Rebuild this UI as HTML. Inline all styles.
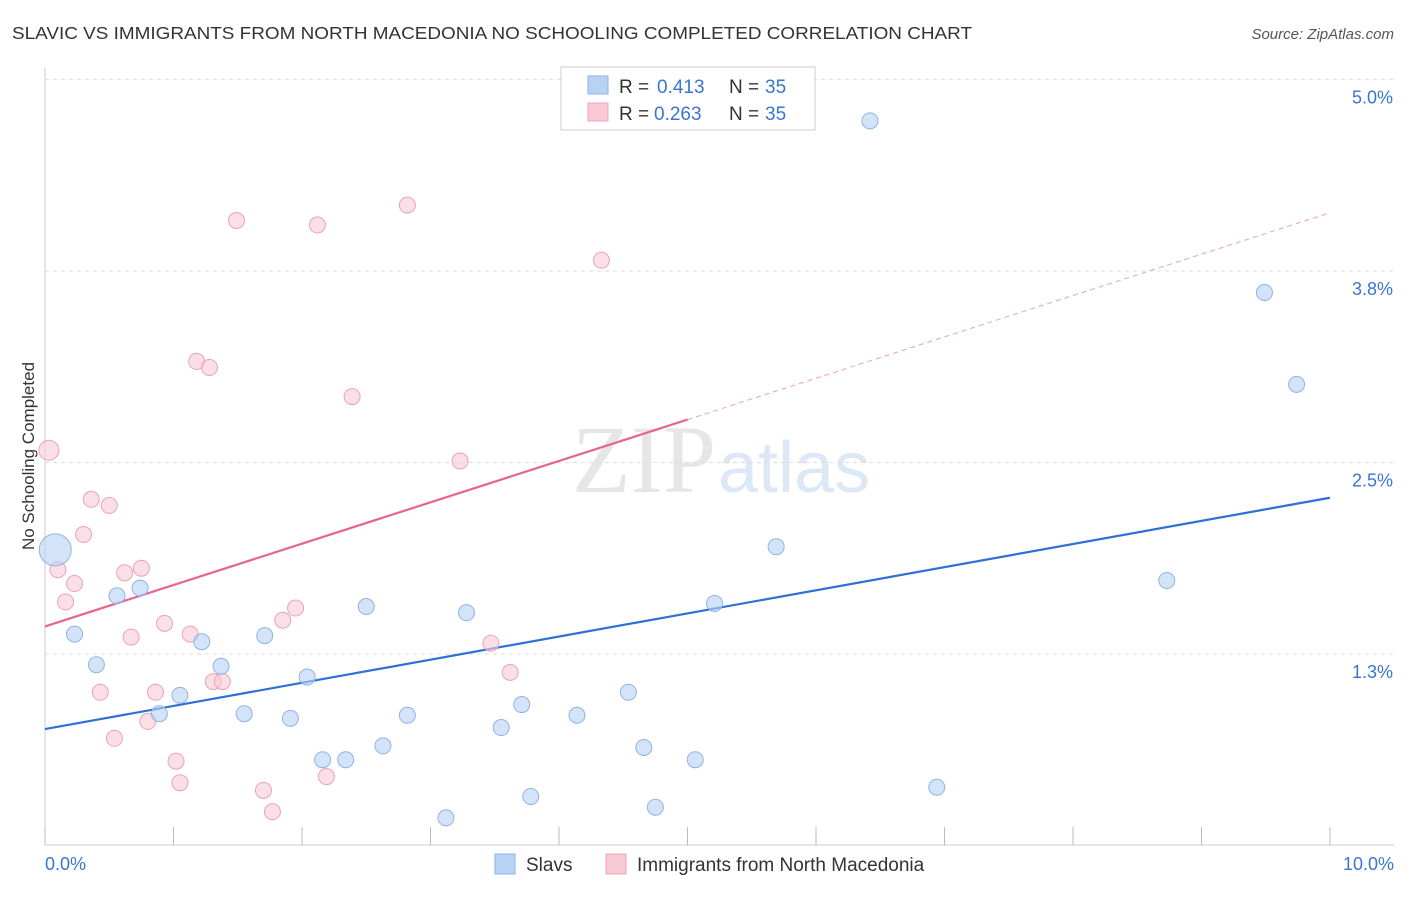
<!DOCTYPE html>
<html><head><meta charset="utf-8"><style>
body{margin:0;background:#fff;font-family:"Liberation Sans",sans-serif}
</style></head><body>
<svg id="c" width="1406" height="892" xmlns="http://www.w3.org/2000/svg">
<text x="12" y="39" font-size="17.5" fill="#333" textLength="960" lengthAdjust="spacingAndGlyphs">SLAVIC VS IMMIGRANTS FROM NORTH MACEDONIA NO SCHOOLING COMPLETED CORRELATION CHART</text>
<text x="1394" y="39" font-size="15" fill="#555" font-style="italic" text-anchor="end">Source: ZipAtlas.com</text>
<text x="34" y="456" font-size="17" fill="#333" text-anchor="middle" transform="rotate(-90 34 456)">No Schooling Completed</text>
<text x="716" y="492" font-size="96" fill="#e6e6e6" text-anchor="end" font-family="Liberation Serif">ZIP</text>
<text x="718" y="492" font-size="72" fill="#dde8f6">atlas</text>
<g id="grid"></g><g id="lines"></g><g id="pts"></g>
<g>
<rect x="561" y="67" width="254" height="63" fill="#fff" stroke="#ccc"/>
<rect x="588" y="76" width="20" height="18" fill="#b8d2f4" stroke="#8fb3e6"/>
<text x="619" y="93" font-size="19" fill="#333">R =</text>
<text x="657" y="93" font-size="19" fill="#3a75d2">0.413</text>
<text x="729" y="93" font-size="19" fill="#333">N =</text>
<text x="765" y="93" font-size="19" fill="#3a75d2">35</text>
<rect x="588" y="103" width="20" height="18" fill="#f9c9d6" stroke="#f0a3b8"/>
<text x="619" y="120" font-size="19" fill="#333">R =</text>
<text x="654" y="120" font-size="19" fill="#3a75d2">0.263</text>
<text x="729" y="120" font-size="19" fill="#333">N =</text>
<text x="765" y="120" font-size="19" fill="#3a75d2">35</text>
</g>
<g>
<rect x="495" y="854" width="20" height="20" fill="#b8d2f4" stroke="#8fb3e6"/>
<text x="526" y="871" font-size="19" fill="#333">Slavs</text>
<rect x="606" y="854" width="20" height="20" fill="#f9c9d6" stroke="#f0a3b8"/>
<text x="637" y="871" font-size="19" fill="#333">Immigrants from North Macedonia</text>
</g>
</svg>
<script>
const xTicks=[0,1,2,3,4,5,6,7,8,9,10];
const yTicks=[1.25,2.5,3.75,5.0];
const yTickLabels=["1.3%","2.5%","3.8%","5.0%"];
const slavX=[0.08,0.23,0.40,0.56,0.74,0.89,1.05,1.22,1.37,1.55,1.71,1.91,2.04,2.16,2.34,2.50,2.63,2.82,3.12,3.28,3.55,3.71,3.78,4.14,4.54,4.66,4.75,5.06,5.21,5.69,6.42,6.94,8.73,9.49,9.74];
const slavY=[1.93,1.38,1.18,1.63,1.68,0.86,0.98,1.33,1.17,0.86,1.37,0.83,1.10,0.56,0.56,1.56,0.65,0.85,0.18,1.52,0.77,0.92,0.32,0.85,1.00,0.64,0.25,0.56,1.58,1.95,4.73,0.38,1.73,3.61,3.01];
const macX=[0.03,0.10,0.16,0.23,0.30,0.36,0.43,0.50,0.54,0.62,0.67,0.75,0.80,0.86,0.93,1.02,1.05,1.13,1.18,1.28,1.31,1.38,1.49,1.70,1.77,1.85,1.95,2.12,2.19,2.39,2.82,3.23,3.47,3.62,4.33];
const macY=[2.58,1.80,1.59,1.71,2.03,2.26,1.00,2.22,0.70,1.78,1.36,1.81,0.81,1.00,1.45,0.55,0.41,1.38,3.16,3.12,1.07,1.07,4.08,0.36,0.22,1.47,1.55,4.05,0.45,2.93,4.18,2.51,1.32,1.13,3.82];
const slavLine=[0.76,2.27];
const macLine=[1.43,4.13];
const NS="http://www.w3.org/2000/svg";
const X=v=>45+v*128.5, Y=v=>845.5-v*153.2;
function mk(t,a,p){const e=document.createElementNS(NS,t);for(const k in a)e.setAttribute(k,a[k]);document.getElementById(p).appendChild(e);return e;}
let e=mk('line',{x1:45,y1:68,x2:45,y2:845,stroke:'#ccc'},'grid');

e=mk('line',{x1:45,y1:845,x2:1394,y2:845,stroke:'#ccc'},'grid');

yTicks.forEach((v,i)=>{
 e=mk('line',{x1:45,x2:1394,y1:Y(v),y2:Y(v),stroke:'#ddd','stroke-dasharray':'4 4'},'grid');
 
 e=mk('text',{x:1393,y:Y(v)+24,'font-size':18,fill:'#3a75d2','text-anchor':'end'},'grid');e.textContent=yTickLabels[i];
 
});
xTicks.forEach(v=>{
 e=mk('line',{x1:X(v),x2:X(v),y1:827,y2:845,stroke:'#bbb'},'grid');
 
});
e=mk('text',{x:45,y:870,'font-size':18,fill:'#3a75d2'},'grid');e.textContent='0.0%';

e=mk('text',{x:1394,y:870,'font-size':18,fill:'#3a75d2','text-anchor':'end'},'grid');e.textContent='10.0%';

e=mk('line',{x1:X(0),y1:Y(slavLine[0]),x2:X(10),y2:Y(slavLine[1]),stroke:'#2f6fd6','stroke-width':2.2},'lines');

const mAt=x=>macLine[0]+(macLine[1]-macLine[0])*x/10;
e=mk('line',{x1:X(0),y1:Y(mAt(0)),x2:X(5),y2:Y(mAt(5)),stroke:'#e8648e','stroke-width':2.2},'lines');

e=mk('line',{x1:X(5),y1:Y(mAt(5)),x2:X(10),y2:Y(mAt(10)),stroke:'#eaa0b6','stroke-width':1,'stroke-dasharray':'5 4'},'lines');

macX.forEach((x,i)=>{
 e=mk('circle',{cx:X(x),cy:Y(macY[i]),r:i==0?10:8,fill:'rgba(249,201,214,0.6)',stroke:'#eba2b7','stroke-width':1},'pts');
 
});
slavX.forEach((x,i)=>{
 e=mk('circle',{cx:X(x),cy:Y(slavY[i]),r:i==0?16:8,fill:'rgba(184,210,244,0.6)',stroke:'#8fb3e6','stroke-width':1},'pts');
 
});
</script>
</body></html>
